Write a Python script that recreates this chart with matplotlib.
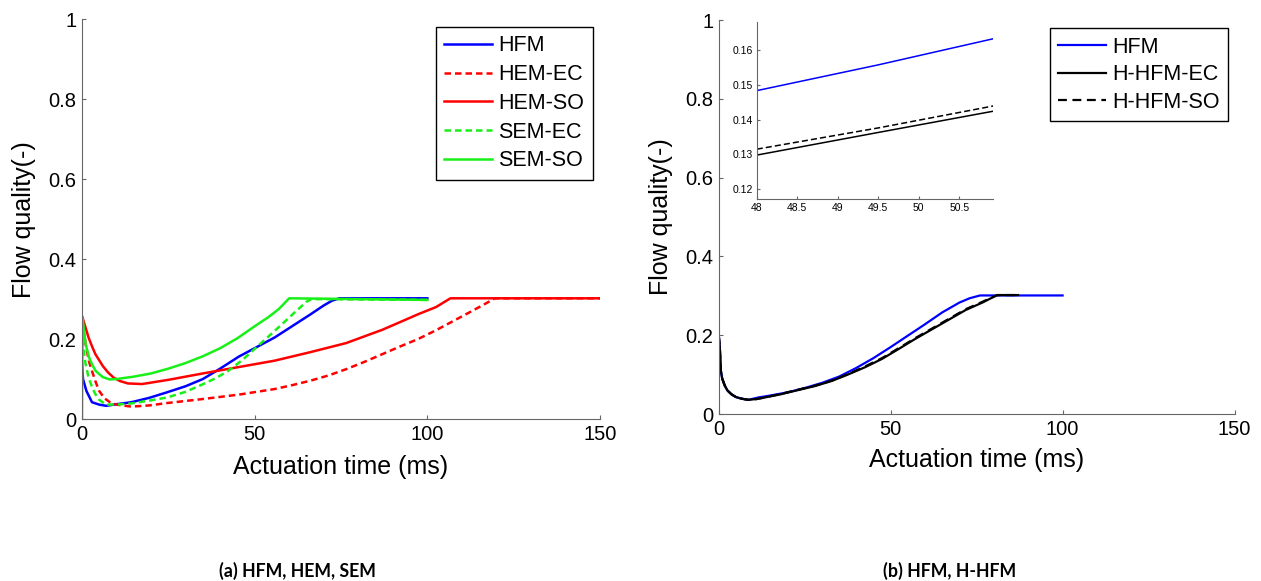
import matplotlib
matplotlib.use("Agg")
import matplotlib.pyplot as plt
from matplotlib.ticker import FormatStrFormatter

plt.rcParams['font.family'] = ['Liberation Sans', 'DejaVu Sans']

# ---- panel (a): HFM, HEM, SEM ----
t_hfm = [0, 0.3, 1.3, 2.9, 5, 7, 10, 14.3, 19.5, 24.7, 30, 35, 40, 45.4, 50.6,
         55.8, 61, 66.2, 70, 72.4, 74.5, 100]
q_hfm = [0.14, 0.1, 0.07, 0.042, 0.036, 0.033, 0.037, 0.042, 0.053, 0.067, 0.082,
         0.1, 0.126, 0.156, 0.18, 0.204, 0.233, 0.262, 0.284, 0.296, 0.302, 0.302]

t_hem_ec = [0, 1, 2, 2.9, 4, 5, 6.5, 8.1, 10, 14.3, 19.5, 24.7, 35, 45.4, 55.8,
            61, 66.2, 71.4, 76.6, 81.8, 86.9, 92, 97.3, 102.5, 107.7, 112.9,
            116.5, 119.6, 150]
q_hem_ec = [0.25, 0.19, 0.145, 0.12, 0.092, 0.07, 0.052, 0.042, 0.036, 0.031,
            0.034, 0.04, 0.05, 0.061, 0.075, 0.085, 0.096, 0.109, 0.125, 0.143,
            0.162, 0.181, 0.2, 0.222, 0.246, 0.27, 0.287, 0.302, 0.302]

t_hem_so = [0, 1, 1.9, 3, 3.9, 5, 6, 7.5, 9.1, 11, 13.3, 17.4, 25, 35, 45.4,
            55.8, 66, 76.5, 86.9, 92, 97.3, 102.5, 106.7, 150]
q_hem_so = [0.258, 0.23, 0.204, 0.18, 0.162, 0.147, 0.133, 0.117, 0.104, 0.095,
            0.089, 0.0875, 0.098, 0.114, 0.13, 0.146, 0.167, 0.19, 0.223, 0.242,
            0.262, 0.28, 0.302, 0.302]

t_sem_ec = [0, 1, 1.9, 3, 3.9, 5, 7, 10, 14.3, 19.5, 24.7, 30, 35, 38.7, 42.3,
            46.5, 50.6, 54.2, 57.9, 61.5, 65.1, 66.5, 100]
q_sem_ec = [0.2, 0.14, 0.104, 0.078, 0.062, 0.048, 0.036, 0.036, 0.039, 0.046,
            0.054, 0.068, 0.087, 0.102, 0.12, 0.148, 0.18, 0.208, 0.237, 0.266,
            0.294, 0.3, 0.298]

t_sem_so = [0, 0.2, 1, 2, 3, 4, 6, 8, 10, 15, 20, 25, 30, 35, 40, 45, 50, 54,
            57, 60, 100]
q_sem_so = [0, 0.25, 0.19, 0.155, 0.135, 0.12, 0.105, 0.099, 0.1, 0.106, 0.114,
            0.126, 0.14, 0.157, 0.177, 0.202, 0.232, 0.255, 0.275, 0.302, 0.298]

# ---- panel (b): HFM, H-HFM ----
t_b_hfm = [0, 0.3, 0.6, 1, 1.75, 2.5, 3.7, 5, 6.6, 8.6, 11.5, 15, 20, 25, 30,
           35, 40, 45, 50, 55, 60, 65, 70, 73, 76, 100]
q_b_hfm = [0.2, 0.17, 0.11, 0.09, 0.072, 0.06, 0.05, 0.043, 0.039, 0.036, 0.042,
           0.047, 0.055, 0.066, 0.079, 0.095, 0.117, 0.142, 0.17, 0.199, 0.228,
           0.258, 0.283, 0.294, 0.301, 0.301]

t_b_hh = [0, 0.3, 0.6, 1, 1.75, 2.5, 3.7, 5, 6.6, 8.6, 11, 13.4, 18, 23.2, 28,
          32.9, 37.5, 42.6, 47.5, 52.3, 57, 62, 67, 71.8, 76.7, 81, 87]
q_b_ec = [0.2, 0.17, 0.11, 0.09, 0.072, 0.06, 0.05, 0.043, 0.039, 0.036, 0.038,
          0.042, 0.05, 0.061, 0.071, 0.084, 0.1, 0.119, 0.14, 0.165, 0.19, 0.215,
          0.24, 0.264, 0.283, 0.302, 0.302]
q_b_so = [0.2, 0.17, 0.11, 0.09, 0.072, 0.06, 0.05, 0.043, 0.039, 0.036, 0.038,
          0.042, 0.051, 0.062, 0.072, 0.085, 0.101, 0.121, 0.142, 0.167, 0.192,
          0.217, 0.242, 0.266, 0.285, 0.302, 0.302]

# zoomed inset
t_zoom = [48, 49.5, 50.92]
z_hfm = [0.1483, 0.1557, 0.1632]
z_ec = [0.1298, 0.1363, 0.1424]
z_so = [0.1315, 0.1376, 0.1439]

BLUE, RED, GREEN = '#0000ff', '#ff0000', '#18f018'
SPINE = '#666666'


def style_axes(ax, ticksize=14.5, pad=4):
    for side in ['top', 'right']:
        ax.spines[side].set_visible(False)
    for side in ['left', 'bottom']:
        ax.spines[side].set_color(SPINE)
    ax.tick_params(direction='in', length=3, width=0.8, color=SPINE,
                   labelsize=ticksize, pad=pad)


fig = plt.figure(figsize=(12.61, 5.81), dpi=100)

# panel (a)
ax1 = fig.add_axes([0.065, 0.2788, 0.4108, 0.688])
ax1.plot(t_hfm, q_hfm, color=BLUE, lw=1.8, label='HFM')
ax1.plot(t_hem_ec, q_hem_ec, color=RED, lw=1.8, ls=(0, (2.6, 1.6)), label='HEM-EC')
ax1.plot(t_hem_so, q_hem_so, color=RED, lw=1.8, label='HEM-SO')
ax1.plot(t_sem_ec, q_sem_ec, color=GREEN, lw=1.8, ls=(0, (2.6, 1.6)), label='SEM-EC')
ax1.plot(t_sem_so, q_sem_so, color=GREEN, lw=1.8, label='SEM-SO')
ax1.set_xlim(0, 150)
ax1.set_ylim(0, 1)
ax1.set_xticks([0, 50, 100, 150])
ax1.set_yticks([0, 0.2, 0.4, 0.6, 0.8, 1])
ax1.yaxis.set_major_formatter(FormatStrFormatter('%g'))
style_axes(ax1)
ax1.set_xlabel('Actuation time (ms)', fontsize=18, labelpad=8)
ax1.set_ylabel('Flow quality(-)', fontsize=18, labelpad=9)
leg1 = ax1.legend(loc='upper right', bbox_to_anchor=(0.986, 0.981), fontsize=15.5,
                  handlelength=2.2, handletextpad=0.3, labelspacing=0.36,
                  borderaxespad=0, borderpad=0.4, fancybox=False, framealpha=1)
leg1.get_frame().set_edgecolor('black')
leg1.get_frame().set_linewidth(1.0)

# panel (b)
ax2 = fig.add_axes([0.570, 0.2874, 0.409, 0.678])
ax2.plot(t_b_hfm, q_b_hfm, color=BLUE, lw=1.6, label='HFM')
ax2.plot(t_b_hh, q_b_ec, color='black', lw=1.6, label='H-HFM-EC')
ax2.plot(t_b_hh, q_b_so, color='black', lw=1.6, ls=(0, (4, 2.5)), label='H-HFM-SO')
ax2.set_xlim(0, 150)
ax2.set_ylim(0, 1)
ax2.set_xticks([0, 50, 100, 150])
ax2.set_yticks([0, 0.2, 0.4, 0.6, 0.8, 1])
ax2.yaxis.set_major_formatter(FormatStrFormatter('%g'))
style_axes(ax2)
ax2.set_xlabel('Actuation time (ms)', fontsize=18, labelpad=7)
ax2.set_ylabel('Flow quality(-)', fontsize=18, labelpad=9)
leg2 = ax2.legend(loc='upper right', bbox_to_anchor=(0.988, 0.98), fontsize=15.5,
                  handlelength=2.2, handletextpad=0.3, labelspacing=0.3,
                  borderaxespad=0, borderpad=0.4, fancybox=False, framealpha=1)
leg2.get_frame().set_edgecolor('black')
leg2.get_frame().set_linewidth(1.0)

# inset
axi = fig.add_axes([0.6001, 0.6575, 0.1876, 0.3052])
axi.plot(t_zoom, z_hfm, color=BLUE, lw=1.1)
axi.plot(t_zoom, z_ec, color='black', lw=1.1)
axi.plot(t_zoom, z_so, color='black', lw=1.1, ls=(0, (4, 2)))
axi.set_xlim(48, 50.92)
axi.set_ylim(0.1172, 0.1681)
axi.set_xticks([48, 48.5, 49, 49.5, 50, 50.5])
axi.set_yticks([0.12, 0.13, 0.14, 0.15, 0.16])
axi.xaxis.set_major_formatter(FormatStrFormatter('%g'))
axi.yaxis.set_major_formatter(FormatStrFormatter('%g'))
style_axes(axi, ticksize=7.5, pad=3)
axi.tick_params(length=2)

# captions
fig.text(0.236, 0.018, '(a) HFM, HEM, SEM', ha='center', va='center',
         fontsize=12.8, fontweight='bold', family=['Lato', 'DejaVu Sans'])
fig.text(0.753, 0.018, '(b) HFM, H-HFM', ha='center', va='center',
         fontsize=12.8, fontweight='bold', family=['Lato', 'DejaVu Sans'])

fig.savefig('out.png', dpi=100)
